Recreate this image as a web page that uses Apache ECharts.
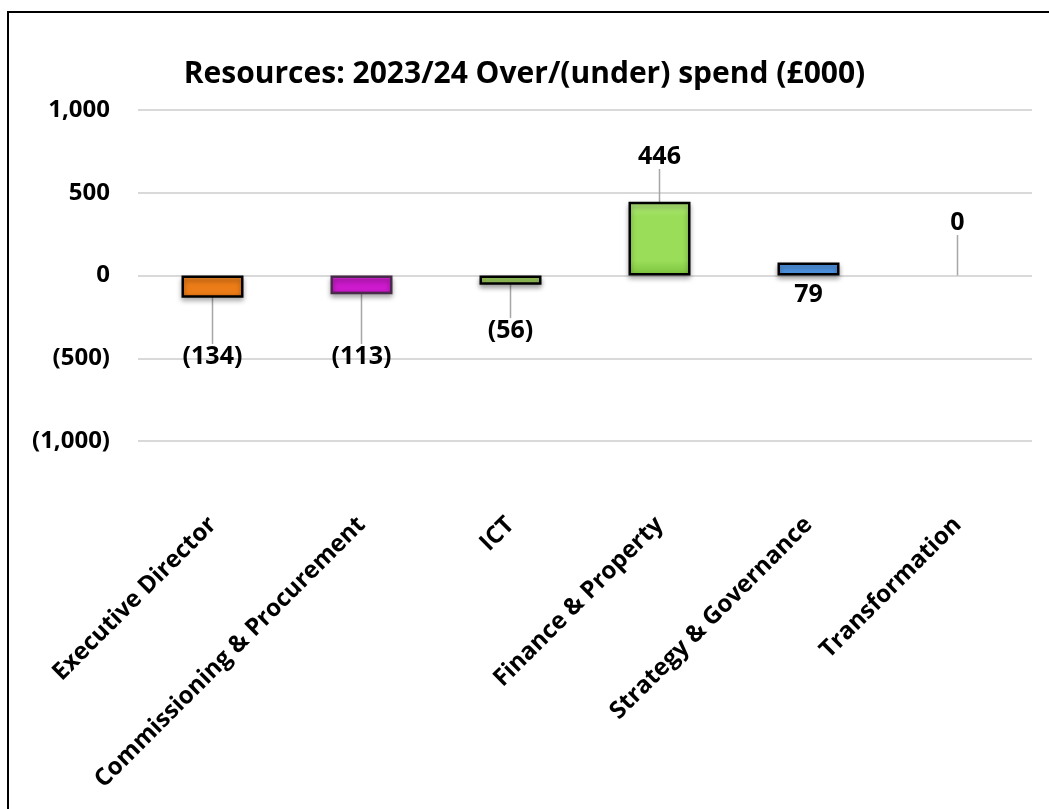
<!DOCTYPE html>
<html><head><meta charset="utf-8">
<script src="https://cdn.jsdelivr.net/npm/echarts@6/dist/echarts.min.js"></script>
<style>html,body{margin:0;padding:0;background:#fff}#c{width:1049px;height:809px}</style>
</head><body><div id="c"></div>
<script>
const categories = ['Executive Director','Commissioning & Procurement','ICT','Finance & Property','Strategy & Governance','Transformation'];
const values = [-134, -113, -56, 446, 79, 0];
const yTicks = [-1000, -500, 0, 500, 1000];

const FONT = '"Open Sans", sans-serif';
const palette = [
  ['#F7A451','#EC7C17','#C9620A','#000'],
  ['#F460F4','#CC1ACC','#A010A0','#4a2a4a'],
  ['#B9DE86','#9BCB5C','#7FAE42','#000'],
  ['#B6EC7E','#99DD58','#7CC23C','#000'],
  ['#8CC0F4','#4F94E2','#2F6FBE','#000'],
  ['#dddddd','#cccccc','#bbbbbb','#cccccc']
];
const labelAt = [-489, -489, -332, 719, -115, 320];
const GAP = 10;
function fmt(v){ const s = Math.abs(v).toLocaleString('en-US'); return v < 0 ? '(' + s + ')' : s; }
function below(i){ return labelAt[i] < 0; }

const chart = echarts.init(document.getElementById('c'), null, {renderer:'canvas'});
chart.setOption({
  animation:false,
  backgroundColor:'#fff',
  graphic:[{type:'rect', shape:{x:8,y:12,width:1100,height:900}, style:{fill:'none', stroke:'#000', lineWidth:2}, z:100}],
  title:{text:'Resources: 2023/24 Over/(under) spend (£000)', left:'center', top:54,
    textStyle:{fontFamily:FONT, fontWeight:'bold', fontSize:30, color:'#000'}},
  grid:{left:138, right:17, top:110, bottom:368, containLabel:false},
  xAxis:{type:'category', data:categories,
    axisLine:{show:false}, axisTick:{show:false},
    axisLabel:{rotate:45, interval:0, margin:80, color:'#000', fontFamily:FONT, fontWeight:'bold', fontSize:24}},
  yAxis:{type:'value', min:yTicks[0], max:yTicks[yTicks.length-1], interval:500,
    axisLine:{show:false}, axisTick:{show:false},
    splitLine:{lineStyle:{color:'#d9d9d9', width:2}},
    axisLabel:{margin:28, color:'#000', fontFamily:FONT, fontWeight:'bold', fontSize:24, formatter:fmt}},
  series:[{
    type:'bar', barWidth:62,
    data: values.map((v,i)=>({
      value:v,
      itemStyle:{
        color:{type:'linear',x:0,y:0,x2:0,y2:1,colorStops:[
          {offset:0,color:palette[i][0]},{offset:0.2,color:palette[i][1]},
          {offset:0.8,color:palette[i][1]},{offset:1,color:palette[i][2]}]},
        borderColor:palette[i][3], borderWidth: v===0?0:2.5
      },
      label:{padding: i===4 ? 0 : (below(i) ? [GAP,0,0,0] : [0,0,GAP,0])},
      labelLine:{show: i!==4}
    })),
    itemStyle:{shadowBlur:5, shadowOffsetY:3, shadowColor:'rgba(0,0,0,0.35)'},
    label:{show:true, position:'inside', formatter:p=>fmt(p.value),
      fontFamily:FONT, fontWeight:'bold', fontSize:25, color:'#000'},
    labelLine:{show:true, lineStyle:{color:'#a6a6a6', width:1.5}},
    labelLayout:function(p){
      const i = p.dataIndex;
      const y = chart.convertToPixel({gridIndex:0},[i, labelAt[i]])[1];
      return {x:p.rect.x + p.rect.width/2, y:y, align:'center', verticalAlign:'middle'};
    }
  }]
});
</script></body></html>
